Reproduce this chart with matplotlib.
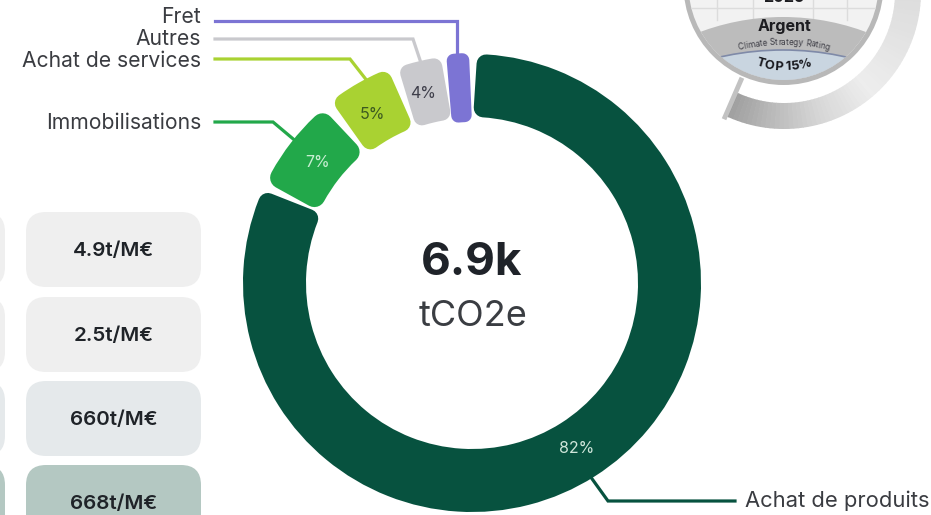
import matplotlib
matplotlib.use("Agg")
import matplotlib.pyplot as plt
import numpy as np
from matplotlib.font_manager import FontProperties
from matplotlib.patches import Circle, FancyBboxPatch, Wedge
from matplotlib.textpath import TextPath

plt.rcParams["font.family"] = ["Inter", "DejaVu Sans"]

# donut
segments = ["Achat de produits", "Immobilisations", "Achat de services", "Autres", "Fret"]
shares = [82, 7, 5, 4, 2]
colors = ["#07523f", "#22a84a", "#a9d232", "#c9c9cd", "#7c74d4"]
pct_colors = ["#cfe6da", "#c9efd3", "#3c5a20", "#3e3e4a", "#ffffff"]

# slice shape, px: outer radius, inner radius, corner stroke, half gap; shift in degrees
outer = [229, 229, 230, 228, 230]
inner = [166, 169, 166, 165, 161]
strokes = [19, 22, 19, 17, 14]
half_gaps = [3, 1.5, 1.5, 4.5, 1.5]
shifts = [0, 0, -1, -1, 0]

# side boxes
box_labels = ["4.9t/M€", "2.5t/M€", "660t/M€", "668t/M€"]
box_colors = ["#efefef", "#efefef", "#e5e9eb", "#b4c8c2"]
box_tops = [212, 297, 381, 465]

H = 515


def y_(py):
    return H - py


def arc_text(ax, s, x0, py0, radius, size, color, weight="normal", smile=False):
    # one glyph at a time along a circle, radius in px
    prop = FontProperties(family="Inter", weight=weight, size=size * 100 / 72)

    def width(t):
        return TextPath((0, 0), t + ".", prop=prop).get_extents().x1 - TextPath((0, 0), ".", prop=prop).get_extents().x1

    total = width(s)
    for i, ch in enumerate(s):
        if ch == " ":
            continue
        mid = width(s[:i]) + width(ch) / 2 - total / 2
        a = mid / radius
        if smile:
            x, y = x0 + radius * np.sin(a), y_(py0) + radius * (1 - np.cos(a))
            rot = np.degrees(a)
        else:
            x, y = x0 + radius * np.sin(a), y_(py0) - radius * (1 - np.cos(a))
            rot = -np.degrees(a)
        ax.text(x, y, ch, ha="center", va="center", rotation=rot, rotation_mode="anchor",
                fontsize=size, fontweight=weight, color=color, zorder=6)


fig = plt.figure(figsize=(9.31, 5.15), dpi=100)
ax = fig.add_axes([0, 0, 1, 1])

cx, cy = 472, y_(283)
wedges, _, pcts = ax.pie(
    shares,
    colors=colors,
    startangle=90,
    counterclock=False,
    center=(cx, cy),
    radius=229,
    frame=True,
    autopct=lambda p: f"{p:.0f}%" if p >= 3 else "",
    pctdistance=196 / 229,
    wedgeprops=dict(width=60, joinstyle="round"),
    textprops=dict(fontsize=11.5),
)
# pull each slice in, the thick round stroke gives the soft corners
for w, c, ro, ri, s, g, sh in zip(wedges, colors, outer, inner, strokes, half_gaps, shifts):
    d = np.degrees((g + s / 2) / 195)
    t1, t2 = w.theta1, w.theta2
    w.set_theta1(t1 + d + sh)
    w.set_theta2(t2 - d + sh)
    w.set_radius(ro - s / 2)
    w.set_width(ro - ri - s)
    w.set_edgecolor(c)
    w.set_linewidth(s * 0.72)
    w.set_zorder(2)
for t, c in zip(pcts, pct_colors):
    t.set_color(c)
    t.set_zorder(3)

# leader lines, in pixels
leaders = [
    ([215, 457, 457], [21, 21, 56], colors[4]),
    ([215, 413, 420], [39, 39, 60], colors[3]),
    ([215, 350, 368], [59, 59, 82], colors[2]),
    ([215, 273, 298], [122, 122, 143], colors[1]),
    ([590, 608, 735], [476, 501, 501], colors[0]),
]
for xs, ys, c in leaders:
    ax.plot(xs, [y_(v) for v in ys], color=c, lw=2.3, solid_joinstyle="miter", zorder=1)

txt = "#3a3c41"
for s, py in zip(["Fret", "Autres", "Achat de services", "Immobilisations"], [17, 39, 61, 123]):
    ax.text(201, y_(py), s, ha="right", va="center", fontsize=15.2, color=txt)
ax.text(745, y_(501), segments[0], ha="left", va="center", fontsize=15.8, color=txt)

ax.text(472, y_(263), "6.9k", ha="center", va="center", fontsize=33, fontweight="bold", color="#1f2329")
ax.text(473, y_(316), "tCO2e", ha="center", va="center", fontsize=26, color="#3a3d42")

# pills
for top, lab, c in zip(box_tops, box_labels, box_colors):
    for x0, x1 in [(26, 201), (-170, 5)]:
        ax.add_patch(FancyBboxPatch((x0 + 20, y_(top + 75) + 20), x1 - x0 - 40, 35,
                                    boxstyle="round,pad=20", fc=c, ec="none", zorder=1))
    ax.text(113.5, y_(top + 39), lab, ha="center", va="center", fontsize=14.8,
            fontweight="semibold", color="#1f2328", zorder=3)

# badge, cut by the top of the picture
ring_c = (784, y_(-8))
ring_angles = np.linspace(244, 382, 70)
ring_greys = np.interp(ring_angles, [244, 262, 285, 310, 345, 382], [0.62, 0.72, 0.84, 0.93, 0.88, 0.84])
for a0, a1, g in zip(ring_angles[:-1], ring_angles[1:], ring_greys):
    ax.add_patch(Wedge(ring_c, 137, a0, a1 + 0.3, width=26, fc=str(g), ec="none", zorder=1))
ax.plot([725, 741], [y_(117), y_(80)], color="#c2c2c2", lw=3.5, zorder=1)

bx, by, br = 783.5, y_(-15), 100
ax.add_patch(Circle((bx, by), br, fc="#b8b8b8", ec="none", zorder=2))
disc = Circle((bx, by), br - 5, fc="#f2f2f2", ec="none", zorder=2)
ax.add_patch(disc)
for gx in [717, 753, 813, 847]:
    ax.plot([gx, gx], [y_(0), y_(20)], color="#dcdcdc", lw=1, zorder=2.5)[0].set_clip_path(disc)
ax.plot([680, 890], [y_(8), y_(8)], color="#dcdcdc", lw=1, zorder=2.5)[0].set_clip_path(disc)

grey = Circle((783, y_(254)), 237, fc="#bcbcbc", ec="none", zorder=3)
ax.add_patch(grey)
grey.set_clip_path(disc)
blue = Circle((783, y_(337)), 287, fc="#c9d5e0", ec="#7f8aa8", lw=1.2, zorder=4)
ax.add_patch(blue)
blue.set_clip_path(disc)

ax.text(784, y_(-3), "2025", ha="center", va="center", fontsize=11.5, fontweight="bold", color="#1c1c20", zorder=6)
ax.text(784, y_(27), "Argent", ha="center", va="center", fontsize=11.5, fontweight="bold", color="#1c1c20", zorder=6)
arc_text(ax, "Climate Strategy Rating", 784, 42, 190, 6, "#3c3c44")
arc_text(ax, "TOP 15%", 784, 67, 85, 9.3, "#16161c", weight="bold", smile=True)

ax.set_xlim(0, 931)
ax.set_ylim(0, H)
ax.set_aspect("auto")
ax.axis("off")

fig.savefig("out.png", dpi=100)
